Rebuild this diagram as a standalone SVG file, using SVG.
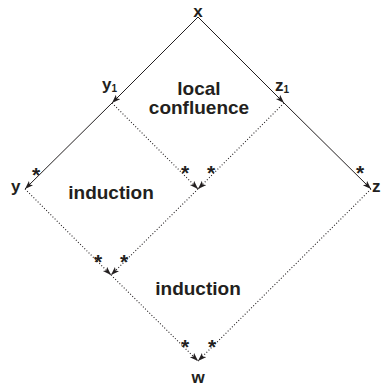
<svg xmlns="http://www.w3.org/2000/svg" width="381" height="387" viewBox="0 0 381 387">
<style>
  text { font-family: "Liberation Sans", Arial, sans-serif; font-weight: bold; fill: #231f20; }
  .node { font-size: 17px; }
  .sub { font-size: 10px; }
  .lbl { font-size: 19px; text-anchor: middle; }
  .star { font-size: 21px; text-anchor: middle; }
  .solid { stroke: #231f20; stroke-width: 1; fill: none; }
  .dot { stroke: #231f20; stroke-width: 1.1; stroke-dasharray: 1 2; fill: none; }
</style>
<defs>
  <marker id="ah" markerUnits="userSpaceOnUse" markerWidth="10" markerHeight="7" refX="8.5" refY="3" orient="auto">
    <path d="M0,0 L8.5,3 L0,6 L2,3 z" fill="#231f20"/>
  </marker>
</defs>
<rect width="381" height="387" fill="#fff"/>
<g id="connectors">
  <line class="solid" x1="198" y1="17" x2="112" y2="103" marker-end="url(#ah)"/>
  <line class="solid" x1="112" y1="103" x2="25" y2="189" marker-end="url(#ah)"/>
  <line class="solid" x1="198" y1="17" x2="284" y2="103" marker-end="url(#ah)"/>
  <line class="solid" x1="284" y1="103" x2="371" y2="189" marker-end="url(#ah)"/>
  <line class="dot" x1="112" y1="103" x2="198" y2="189" marker-end="url(#ah)"/>
  <line class="dot" x1="284" y1="103" x2="198" y2="189" marker-end="url(#ah)"/>
  <line class="dot" x1="25" y1="189" x2="111" y2="275" marker-end="url(#ah)"/>
  <line class="dot" x1="198" y1="189" x2="111" y2="275" marker-end="url(#ah)"/>
  <line class="dot" x1="111" y1="275" x2="198" y2="361" marker-end="url(#ah)"/>
  <line class="dot" x1="371" y1="189" x2="198" y2="361" marker-end="url(#ah)"/>
</g>
<g id="stars">
  <text class="star" x="36" y="182">*</text>
  <text class="star" x="360" y="180">*</text>
  <text class="star" x="185" y="180">*</text>
  <text class="star" x="211" y="180">*</text>
  <text class="star" x="98" y="269">*</text>
  <text class="star" x="124" y="269">*</text>
  <text class="star" x="185" y="354">*</text>
  <text class="star" x="212" y="354">*</text>
</g>
<g id="node-x"><text class="node" x="198" y="17" text-anchor="middle">x</text></g>
<g id="node-y1"><text class="node" x="102" y="90">y<tspan class="sub" dy="2">1</tspan></text></g>
<g id="node-z1"><text class="node" x="275" y="91">z<tspan class="sub" dy="2">1</tspan></text></g>
<g id="node-y"><text class="node" x="11" y="192">y</text></g>
<g id="node-z"><text class="node" x="372" y="192">z</text></g>
<g id="node-w"><text class="node" x="198" y="383" text-anchor="middle">w</text></g>
<g id="label-local"><text class="lbl" x="199" y="95">local</text><text class="lbl" x="199" y="114">confluence</text></g>
<g id="label-induction1"><text class="lbl" x="111" y="199">induction</text></g>
<g id="label-induction2"><text class="lbl" x="198" y="295">induction</text></g>
</svg>
